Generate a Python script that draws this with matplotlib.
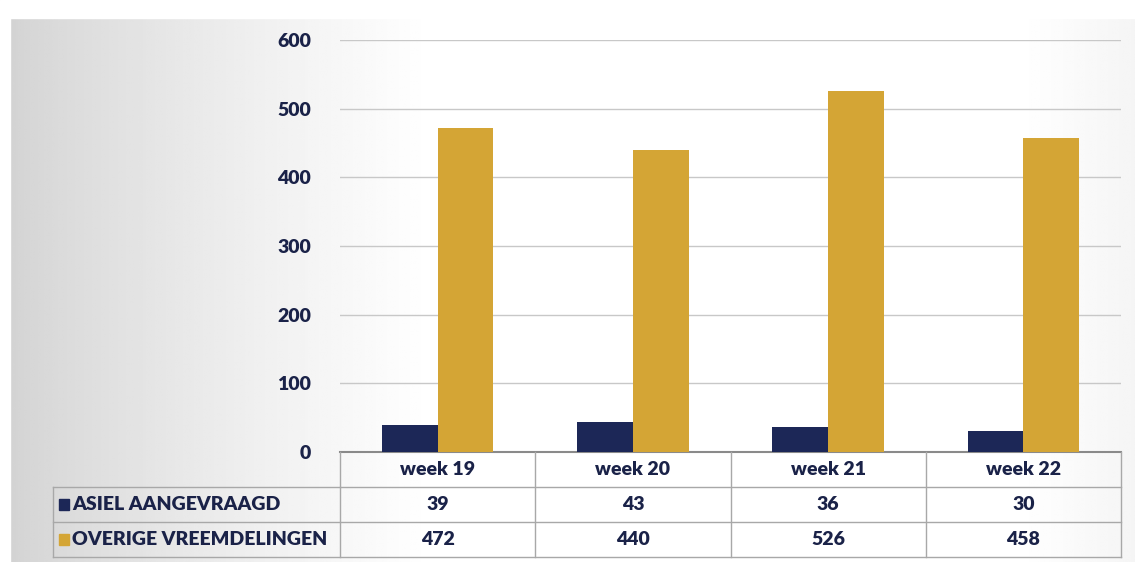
import numpy as np
import matplotlib
matplotlib.use("Agg")
import matplotlib.pyplot as plt
from matplotlib.patches import Rectangle

weeks = ["week 19", "week 20", "week 21", "week 22"]
series_names = ["ASIEL AANGEVRAAGD", "OVERIGE VREEMDELINGEN"]
asiel = [39, 43, 36, 30]
overige = [472, 440, 526, 458]
yticks = [0, 100, 200, 300, 400, 500, 600]

NAVY = "#1c2757"
GOLD = "#d4a535"
TXT = "#1a2248"
GRID = "#c8c8c8"

plt.rcParams['font.family'] = ['Lato', 'DejaVu Sans']

W, H = 1135, 562
fig = plt.figure(figsize=(W / 100, H / 100), dpi=100)

# background (scanned look: gray at left fading to white)
bg = fig.add_axes([0, 0, 1, 1], zorder=-10)
xs = np.linspace(0, 1, 400)
row = np.clip(0.82 + 0.18 * (xs / 0.38) ** 0.8, 0, 1)
row = np.minimum(row, 1.0 - 0.04 * np.clip((xs - 0.9) / 0.1, 0, 1))
img = np.tile(row, (100, 1))
bg.imshow(img, cmap="gray", vmin=0, vmax=1, aspect="auto", extent=[0, 1, 0, 1])
bg.add_patch(Rectangle((0, (H - 18) / H), 1, 18 / H, color="white", zorder=2))
bg.add_patch(Rectangle((0, 0), 10 / W, 1, color="white", zorder=2))
bg.set_xlim(0, 1)
bg.set_ylim(0, 1)
bg.axis("off")

left, right = 340 / W, 1121 / W
bottom, top = (H - 452) / H, (H - 40) / H
ax = fig.add_axes([left, bottom, right - left, top - bottom])
ax.set_facecolor("none")

x = np.arange(len(weeks))
bw = 0.285
ax.bar(x - bw / 2, asiel, bw, color=NAVY, zorder=3, label=series_names[0])
ax.bar(x + bw / 2, overige, bw, color=GOLD, zorder=3, label=series_names[1])

ax.set_xlim(-0.5, len(weeks) - 0.5)
ax.set_ylim(0, 600)
ax.set_yticks(yticks)
ax.set_yticklabels([str(v) for v in yticks], fontsize=14, fontweight="heavy", color=TXT)
ax.tick_params(axis="y", length=0, pad=21)
ax.set_xticks([])
ax.yaxis.grid(True, color=GRID, linewidth=1.0, zorder=0)
for s in ["top", "right", "left"]:
    ax.spines[s].set_visible(False)
ax.spines["bottom"].set_color("#8a8a8a")
ax.spines["bottom"].set_linewidth(1.5)

# data table beneath, sharing category positions with the chart
tb_top, tb_bot = (H - 452) / H, (H - 557) / H
tax = fig.add_axes([left, tb_bot, right - left, tb_top - tb_bot], sharex=ax)
tax.set_facecolor("none")
tax.set_ylim(3, 0)
tax.axis("off")
unit = (1121 - 340) / 4
label_left = -0.5 - (340 - 53) / unit
LC = "#a8a8a8"
lw = 1.0
for yv in [1, 2, 3]:
    tax.plot([label_left if yv > 1 else -0.5, 3.5], [yv, yv], color=LC, lw=lw, clip_on=False)
tax.plot([label_left, -0.5], [1, 1], color=LC, lw=lw, clip_on=False)
for xv in np.arange(-0.5, 4.0, 1.0):
    tax.plot([xv, xv], [0, 3], color=LC, lw=lw, clip_on=False)
tax.plot([label_left, label_left], [1, 3], color=LC, lw=lw, clip_on=False)

FS = 14
for i, wk in enumerate(weeks):
    tax.text(i, 0.5, wk, ha="center", va="center", fontsize=FS, fontweight="heavy", color=TXT, clip_on=False)
    tax.text(i, 1.5, str(asiel[i]), ha="center", va="center", fontsize=FS, fontweight="heavy", color=TXT, clip_on=False)
    tax.text(i, 2.5, str(overige[i]), ha="center", va="center", fontsize=FS, fontweight="heavy", color=TXT, clip_on=False)

for r, (name, col) in enumerate(zip(series_names, [NAVY, GOLD])):
    tax.add_patch(Rectangle((label_left + 6 / unit, 1.5 + r - 0.16), 10 / unit, 0.32,
                            color=col, clip_on=False))
    tax.text(label_left + 19 / unit, 1.5 + r, name, ha="left", va="center", fontsize=FS,
             fontweight="heavy", color=TXT, clip_on=False)

fig.savefig("out.png", dpi=100)
